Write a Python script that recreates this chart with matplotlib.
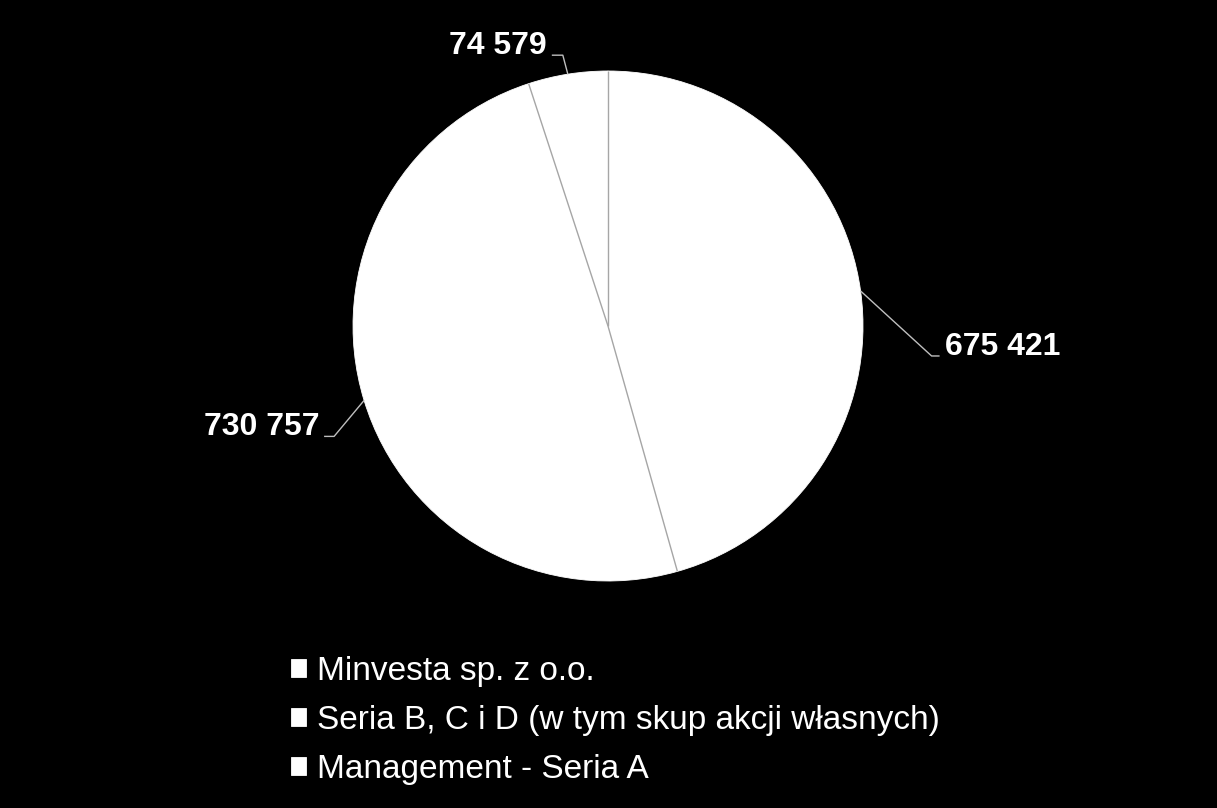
import numpy as np
import matplotlib
matplotlib.use("Agg")
import matplotlib.pyplot as plt

# ---- data ----
categories = ["Minvesta sp. z o.o.",
              "Seria B, C i D (w tym skup akcji własnych)",
              "Management - Seria A"]
values = [675421, 730757, 74579]
value_labels = ["675 421", "730 757", "74 579"]

plt.rcParams['font.family'] = ['Liberation Sans', 'DejaVu Sans']

W, H = 1217, 808
fig = plt.figure(figsize=(W / 100, H / 100), dpi=100, facecolor='black')
ax = fig.add_axes([0, 0, 1, 1])
ax.set_facecolor('black')

cx, cy_img, R = 608, 326, 255
cy = H - cy_img

wedges, _ = ax.pie(values, center=(cx, cy), radius=R, startangle=90,
                   counterclock=False, colors=['white'] * 3,
                   wedgeprops=dict(edgecolor='white', linewidth=0.6))
ax.set_xlim(0, W)
ax.set_ylim(0, H)
ax.set_aspect('equal')
ax.axis('off')

# gray separators between slices
for w in wedges:
    t = np.deg2rad(w.theta1)
    ax.plot([cx, cx + R * np.cos(t)], [cy, cy + R * np.sin(t)],
            color='#a6a6a6', lw=1.0, solid_capstyle='butt')

# leader offsets (pixels): (dx, dy-down) from edge point to elbow, horizontal length
offsets = [(71, 65, 8), (-30, 36, -10), (-5, -19, -11)]
for w, lab, (dx, dy, hl) in zip(wedges, value_labels, offsets):
    mid = np.deg2rad((w.theta1 + w.theta2) / 2)
    px, py = cx + R * np.cos(mid), cy + R * np.sin(mid)
    ex, ey = px + dx, py - dy
    hx = ex + hl
    ax.plot([px, ex, hx], [py, ey, ey], color='#bfbfbf', lw=1.0, solid_capstyle='butt')
    if hl > 0:
        ax.text(hx + 5, ey + 1, lab, color='white', fontsize=23, fontweight='bold',
                ha='left', va='baseline')
    else:
        ax.text(hx - 5, ey + 1, lab, color='white', fontsize=23, fontweight='bold',
                ha='right', va='baseline')

leg = ax.legend(wedges, categories, loc='upper left',
                bbox_to_anchor=(291 / W, (H - 656) / H), bbox_transform=fig.transFigure,
                frameon=False, fontsize=24, labelcolor='white',
                handlelength=0.45, handleheight=0.45, handletextpad=0.33,
                labelspacing=0.54, borderpad=0, borderaxespad=0)

fig.savefig("out.png", dpi=100, facecolor='black')
